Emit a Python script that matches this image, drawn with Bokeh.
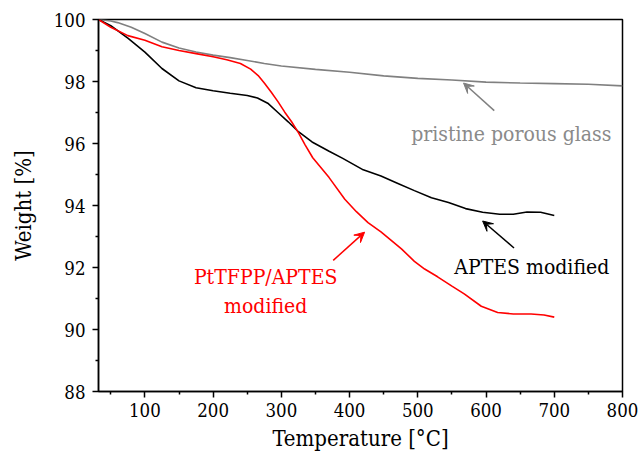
from bokeh.plotting import figure
from bokeh.models import Arrow, VeeHead, Range1d, FixedTicker, ColumnDataSource
from bokeh.core.properties import value
from bokeh.embed import file_html
from bokeh.resources import INLINE

# --- data ---
t_gray = [32, 50, 60, 80, 100, 125, 150, 175, 200, 225, 250, 275, 300, 350, 400,
          450, 500, 550, 600, 650, 700, 750, 800]
w_gray = [100.0, 99.95, 99.9, 99.75, 99.55, 99.27, 99.08, 98.95, 98.85, 98.77, 98.68,
          98.58, 98.5, 98.39, 98.3, 98.18, 98.1, 98.05, 97.98, 97.95, 97.93, 97.91, 97.86]

t_aptes = [32, 50, 75, 100, 125, 150, 175, 200, 225, 250, 265, 280, 295, 310, 325, 345,
           370, 390, 420, 446, 470, 495, 520, 545, 570, 595, 620, 640, 660, 680, 700]
w_aptes = [100.0, 99.8, 99.4, 98.95, 98.42, 98.02, 97.8, 97.7, 97.62, 97.55, 97.47, 97.3,
           97.0, 96.7, 96.38, 96.05, 95.75, 95.52, 95.15, 94.95, 94.72, 94.48, 94.25, 94.1,
           93.9, 93.78, 93.72, 93.72, 93.79, 93.78, 93.68]

t_pt = [32, 50, 75, 100, 125, 150, 175, 200, 220, 240, 255, 266, 275, 285, 295, 305, 315,
        325, 335, 346, 370, 393, 410, 427, 446, 476, 495, 510, 529, 550, 568, 593, 617,
        640, 666, 685, 700]
w_pt = [100.0, 99.75, 99.48, 99.33, 99.12, 99.0, 98.9, 98.8, 98.7, 98.58, 98.4, 98.19,
        97.95, 97.66, 97.35, 97.01, 96.7, 96.35, 95.95, 95.54, 94.9, 94.2, 93.8, 93.45,
        93.15, 92.6, 92.2, 91.95, 91.7, 91.4, 91.15, 90.75, 90.55, 90.5, 90.5, 90.47, 90.4]

x_ticks = [100, 200, 300, 400, 500, 600, 700, 800]
y_ticks = [88, 90, 92, 94, 96, 98, 100]

# annotation texts and anchor positions (data units)
ann_text = ["pristine porous glass", "APTES modified", "PtTFPP/APTES", "modified"]
ann_x = [637, 667, 277, 277]
ann_y = [96.31, 92.02, 91.7, 90.76]
ann_color = ["#8a8a8a", "#000000", "#ff0000", "#ff0000"]

arr_x0 = [612, 641, 376]
arr_y0 = [97.06, 92.63, 92.23]
arr_x1 = [567, 595, 422]
arr_y1 = [97.95, 93.5, 93.14]
arr_color = ["#808080", "#000000", "#ff0000"]

FONT = "DejaVu Serif Condensed"

p = figure(width=643, height=453, output_backend="svg", toolbar_location=None,
           x_range=Range1d(32, 800), y_range=Range1d(88, 100),
           min_border_left=98, min_border_right=21, min_border_top=19,
           min_border_bottom=61)

p.line(t_gray, w_gray, line_color="#808080", line_width=1.6)
p.line(t_aptes, w_aptes, line_color="#000000", line_width=1.6)
p.line(t_pt, w_pt, line_color="#ff0000", line_width=1.6)

src = ColumnDataSource(dict(x=ann_x, y=ann_y, text=ann_text, color=ann_color))
p.text(x="x", y="y", text="text", text_color="color", source=src,
       text_font=value(FONT), text_font_size="21px", text_align="center",
       text_baseline="middle")

for i in range(len(arr_x0)):
    p.add_layout(Arrow(x_start=arr_x0[i], y_start=arr_y0[i], x_end=arr_x1[i], y_end=arr_y1[i],
                       line_color=arr_color[i], line_width=1.5,
                       end=VeeHead(size=10, fill_color=arr_color[i], line_color=arr_color[i])))

p.grid.visible = False
p.outline_line_color = "black"
p.outline_line_width = 1.5
p.outline_line_alpha = 1.0

p.xaxis.ticker = FixedTicker(ticks=x_ticks, minor_ticks=[50 + 100 * i for i in range(8)])
p.yaxis.ticker = FixedTicker(ticks=y_ticks, minor_ticks=[89, 91, 93, 95, 97, 99])
p.xaxis.axis_label = "Temperature [°C]"
p.yaxis.axis_label = "Weight [%]"

for ax in (p.xaxis, p.yaxis):
    ax.axis_line_width = 1.5
    ax.axis_line_color = "black"
    ax.major_tick_line_width = 1.5
    ax.minor_tick_line_width = 1.5
    ax.major_tick_in = 0
    ax.major_tick_out = 6
    ax.minor_tick_in = 0
    ax.minor_tick_out = 3
    ax.major_label_text_font = FONT
    ax.major_label_text_font_size = "18.5px"
    ax.major_label_text_color = "black"
    ax.axis_label_text_font = FONT
    ax.axis_label_text_font_size = "22px"
    ax.axis_label_text_font_style = "normal"
    ax.axis_label_text_color = "black"

p.xaxis.major_label_standoff = 5
p.xaxis.axis_label_standoff = 6
p.yaxis.major_label_standoff = 7
p.yaxis.axis_label_standoff = 15

open("out.html", "w").write(file_html(p, INLINE))
